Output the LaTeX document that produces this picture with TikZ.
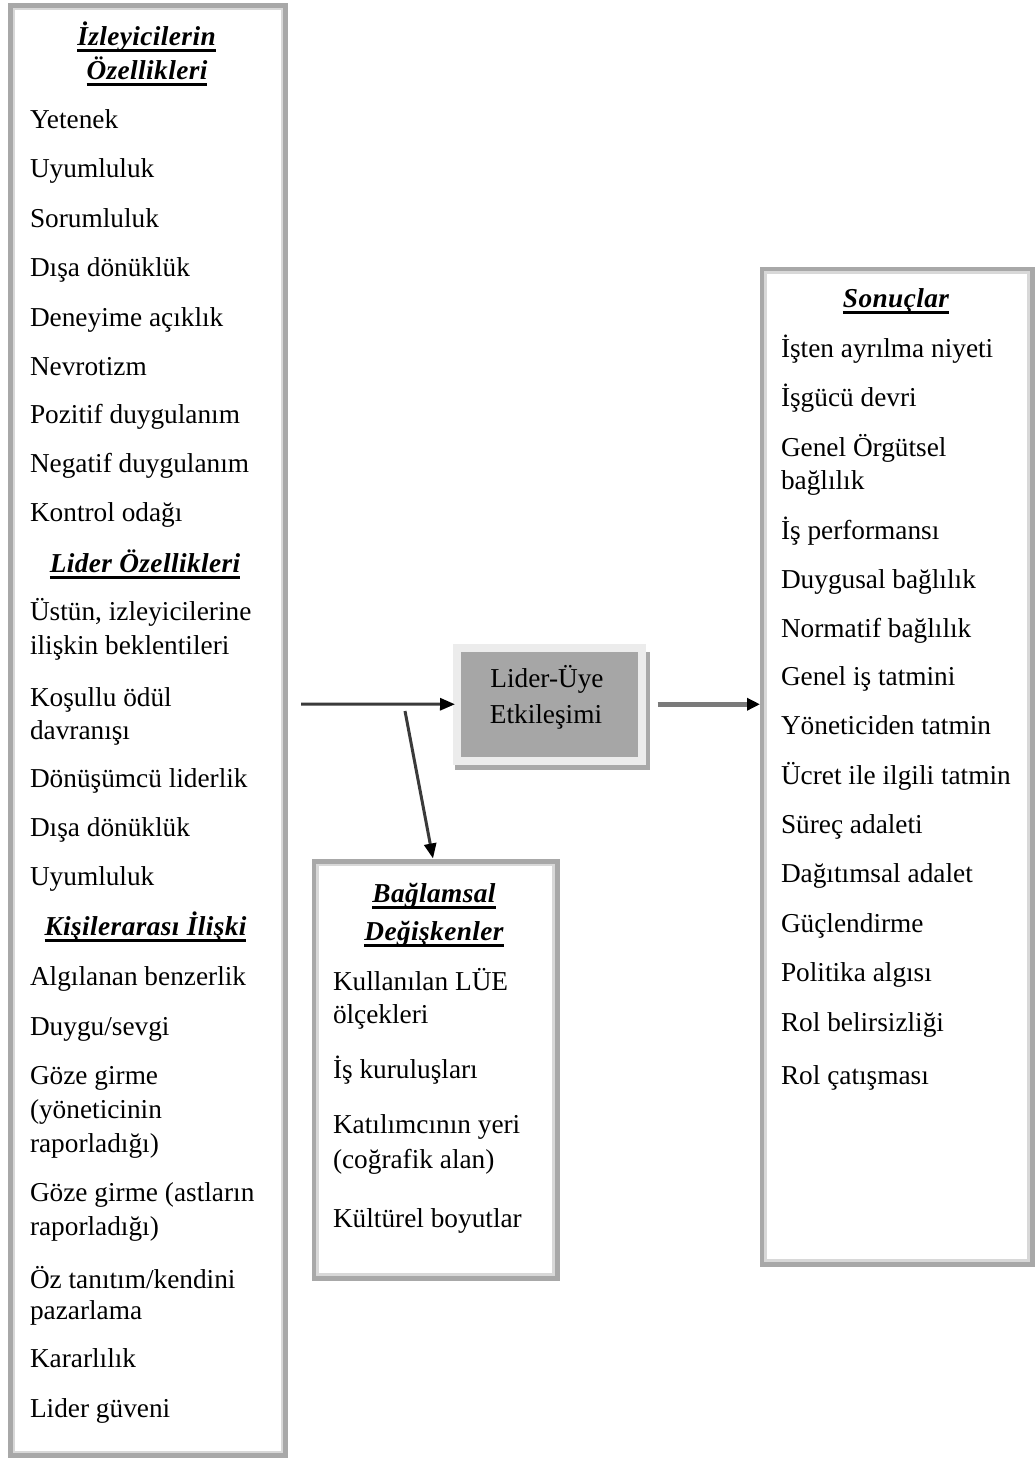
\documentclass[tikz,border=0pt]{standalone}
\usepackage{fontspec}
\setmainfont{Liberation Serif}
\usetikzlibrary{arrows.meta}

\definecolor{frameDark}{HTML}{A8A8A8}
\definecolor{frameLight}{HTML}{D8D8D8}
\definecolor{coreFill}{HTML}{A6A6A6}
\definecolor{coreRim}{HTML}{ECECEC}
\definecolor{coreShade}{HTML}{A9A9A9}
\definecolor{linkDark}{HTML}{3A3A3A}
\definecolor{linkGrey}{HTML}{7A7A7A}

\newcommand\diagfont{\fontsize{27.3}{31}\selectfont}
\newcommand\headfont{\fontsize{27.3}{31}\selectfont\bfseries\itshape\addfontfeature{LetterSpace=1.5}}

\tikzset{
  panel/.style={draw=frameDark, line width=5pt, fill=white, inner sep=0pt, outer sep=0pt},
  panelrim/.style={draw=frameLight, line width=2.5pt},
  item/.style={anchor=base west, inner sep=0pt, outer sep=0pt, font=\diagfont},
  heading/.style={anchor=base, inner sep=0pt, outer sep=0pt, font=\headfont},
  uline/.style={draw=black, line width=3pt},
  linkA/.style={draw=linkDark, line width=3pt, -{Triangle[length=15pt,width=12pt,color=black]}},
  linkB/.style={draw=linkGrey, line width=5pt, -{Triangle[length=13pt,width=12pt,color=black]}},
}

% underline a heading node: rule 5.5pt below its baseline
\newcommand\headrule[1]{%
  \draw[uline] ([yshift=-5.5pt]#1.base west) -- ([yshift=-5.5pt]#1.base east);}

\begin{document}
\begin{tikzpicture}[x=1pt, y=-1pt]
\useasboundingbox (0,0) rectangle (1035,1459);
\fill[white] (0,0) rectangle (1035,1459);

% ---------- panels ----------
\node[panel, minimum width=275pt, minimum height=1450pt] (lbox) at (148,730.5) {};
\draw[panelrim] ([shift={(3.5,3.5)}]lbox.north west) rectangle ([shift={(-3.5,-3.5)}]lbox.south east);

\node[panel, minimum width=243pt, minimum height=416.5pt] (cbox) at (435.5,1069.75) {};
\draw[panelrim] ([shift={(3.5,3.5)}]cbox.north west) rectangle ([shift={(-3.5,-3.5)}]cbox.south east);

\node[panel, minimum width=270pt, minimum height=995pt] (rbox) at (897,766.5) {};
\draw[panelrim] ([shift={(3.5,3.5)}]rbox.north west) rectangle ([shift={(-3.5,-3.5)}]rbox.south east);

% ---------- central box ----------
\fill[coreShade] (455,652) rectangle (650,770);
\node[draw=coreRim, line width=8pt, fill=coreFill, inner sep=0pt, outer sep=0pt,
      minimum width=185pt, minimum height=113.5pt] (core) at (549,704.25) {};
\node[anchor=base, inner sep=0pt, font=\diagfont] (coreA) at (547,687) {Lider-Üye};
\node[anchor=base, inner sep=0pt, font=\diagfont] (coreB) at (546,723) {Etkileşimi};

% ---------- left panel ----------
\node[heading] (h1a) at (146.5,45) {İzleyicilerin};
\node[heading] (h1b) at (147,79) {Özellikleri};
\headrule{h1a}
\headrule{h1b}
\node[item] (a1) at (30,128) {Yetenek};
\node[item] (a2) at (30,177) {Uyumluluk};
\node[item] (a3) at (30,227) {Sorumluluk};
\node[item] (a4) at (30,276) {Dışa dönüklük};
\node[item] (a5) at (30,326) {Deneyime açıklık};
\node[item] (a6) at (30,375) {Nevrotizm};
\node[item] (a7) at (30,423) {Pozitif duygulanım};
\node[item] (a8) at (30,472) {Negatif duygulanım};
\node[item] (a9) at (30,521) {Kontrol odağı};

\node[heading] (h2) at (145,572) {Lider Özellikleri};
\headrule{h2}
\node[item] (b1) at (30,620) {Üstün, izleyicilerine};
\node[item] (b1x) at (30,654) {ilişkin beklentileri};
\node[item] (b2) at (30,706) {Koşullu ödül};
\node[item] (b2x) at (30,739) {davranışı};
\node[item] (b3) at (30,787) {Dönüşümcü liderlik};
\node[item] (b4) at (30,836) {Dışa dönüklük};
\node[item] (b5) at (30,885) {Uyumluluk};

\node[heading] (h3) at (145.5,935) {Kişilerarası İlişki};
\headrule{h3}
\node[item] (c1) at (30,985) {Algılanan benzerlik};
\node[item] (c2) at (30,1035) {Duygu/sevgi};
\node[item] (c3) at (30,1084) {Göze girme};
\node[item] (c3x) at (30,1118) {(yöneticinin};
\node[item] (c3y) at (30,1152) {raporladığı)};
\node[item] (c4) at (30,1201) {Göze girme (astların};
\node[item] (c4x) at (30,1235) {raporladığı)};
\node[item] (c5) at (30,1288) {Öz tanıtım/kendini};
\node[item] (c5x) at (30,1319) {pazarlama};
\node[item] (c6) at (30,1367) {Kararlılık};
\node[item] (c7) at (30,1417) {Lider güveni};

% ---------- context panel ----------
\node[heading] (h4a) at (434,902) {Bağlamsal};
\node[heading] (h4b) at (434,940) {Değişkenler};
\headrule{h4a}
\headrule{h4b}
\node[item] (d1) at (333,990) {Kullanılan LÜE};
\node[item] (d1x) at (333,1023) {ölçekleri};
\node[item] (d2) at (333,1078) {İş kuruluşları};
\node[item] (d3) at (333,1133) {Katılımcının yeri};
\node[item] (d3x) at (333,1168) {(coğrafik alan)};
\node[item] (d4) at (333,1227) {Kültürel boyutlar};

% ---------- outcomes panel ----------
\node[heading] (h5) at (896,307) {Sonuçlar};
\headrule{h5}
\node[item] (e1) at (781,357) {İşten ayrılma niyeti};
\node[item] (e2) at (781,406) {İşgücü devri};
\node[item] (e3) at (781,456) {Genel Örgütsel};
\node[item] (e3x) at (781,489) {bağlılık};
\node[item] (e4) at (781,539) {İş performansı};
\node[item] (e5) at (781,588) {Duygusal bağlılık};
\node[item] (e6) at (781,637) {Normatif bağlılık};
\node[item] (e7) at (781,685) {Genel iş tatmini};
\node[item] (e8) at (781,734) {Yöneticiden tatmin};
\node[item] (e9) at (781,784) {Ücret ile ilgili tatmin};
\node[item] (e10) at (781,833) {Süreç adaleti};
\node[item] (e11) at (781,882) {Dağıtımsal adalet};
\node[item] (e12) at (781,932) {Güçlendirme};
\node[item] (e13) at (781,981) {Politika algısı};
\node[item] (e14) at (781,1031) {Rol belirsizliği};
\node[item] (e15) at (781,1084) {Rol çatışması};

% ---------- connectors ----------
\coordinate (inStart) at (301,704);
\coordinate (branch) at (405,711);
\draw[linkA] (inStart) -- ([xshift=-1.5pt]core.west);
\draw[linkA] (branch) -- ([xshift=-2.5pt,yshift=3pt]cbox.north);
\draw[linkB] ([xshift=16pt]core.east) -- ([xshift=-2pt]core.east -| rbox.west);
\end{tikzpicture}
\end{document}
